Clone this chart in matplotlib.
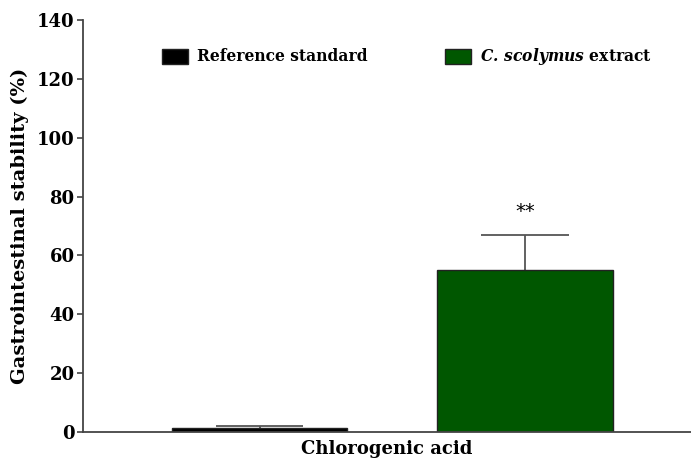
import matplotlib.pyplot as plt
from matplotlib.patches import Patch

# data
groups = ['Reference standard', 'C. scolymus extract']
means = [1.2, 55.0]
errs = [0.9, 12.0]
colors = ['#000000', '#005700']
star_text = '**'
star_y = 75

plt.rcParams['font.family'] = ['DejaVu Serif']
plt.rcParams['font.weight'] = 'bold'
plt.rcParams['mathtext.fontset'] = 'dejavuserif'

fig = plt.figure(figsize=(6.91, 4.59), dpi=100)
ax = fig.add_axes([0.120, 0.0588, 0.880, 0.8976])

pos = [0, 1]
width = 0.66
ax.bar(pos, means, width=width, color=colors, edgecolor='#222222', linewidth=1.0, zorder=2)
# upper-only error bars
tops = [m + e for m, e in zip(means, errs)]
ax.vlines(pos, means, tops, color='#555555', linewidth=1.3, zorder=1)
ax.hlines(tops, [p - width / 4 for p in pos], [p + width / 4 for p in pos],
          color='#555555', linewidth=1.3, zorder=1)
ax.text(1, star_y, star_text, ha='center', va='center', fontsize=14,
        fontweight='normal', family='DejaVu Sans')

ax.set_xlim(-0.665, 1.625)
ax.set_ylim(0, 140)
ax.set_yticks(range(0, 141, 20))
ax.set_xticks([])
ax.tick_params(axis='y', labelsize=13, length=4, width=1.2, color='#444444', pad=2)
for lab in ax.get_yticklabels():
    lab.set_fontweight('bold')
ax.spines['top'].set_visible(False)
ax.spines['right'].set_visible(False)
for s in ['left', 'bottom']:
    ax.spines[s].set_linewidth(1.3)
    ax.spines[s].set_color('#444444')

ax.set_ylabel('Gastrointestinal stability (%)', fontsize=14, fontweight='bold', labelpad=6)
ax.set_xlabel('Chlorogenic acid', fontsize=13, fontweight='bold', labelpad=6)

handles = [Patch(facecolor=colors[0], edgecolor='#222222'),
           Patch(facecolor=colors[1], edgecolor='#222222')]
labels = ['Reference standard', r'$\mathbfit{C.\,scolymus}$ extract']
leg = ax.legend(handles, labels, loc='upper center', bbox_to_anchor=(0.533, 0.97), ncol=2,
                frameon=False, fontsize=11.2, columnspacing=5.0, handlelength=1.65,
                handleheight=1.1, handletextpad=0.6)
for t in leg.get_texts():
    t.set_fontweight('bold')

fig.savefig('out.png', dpi=100)
